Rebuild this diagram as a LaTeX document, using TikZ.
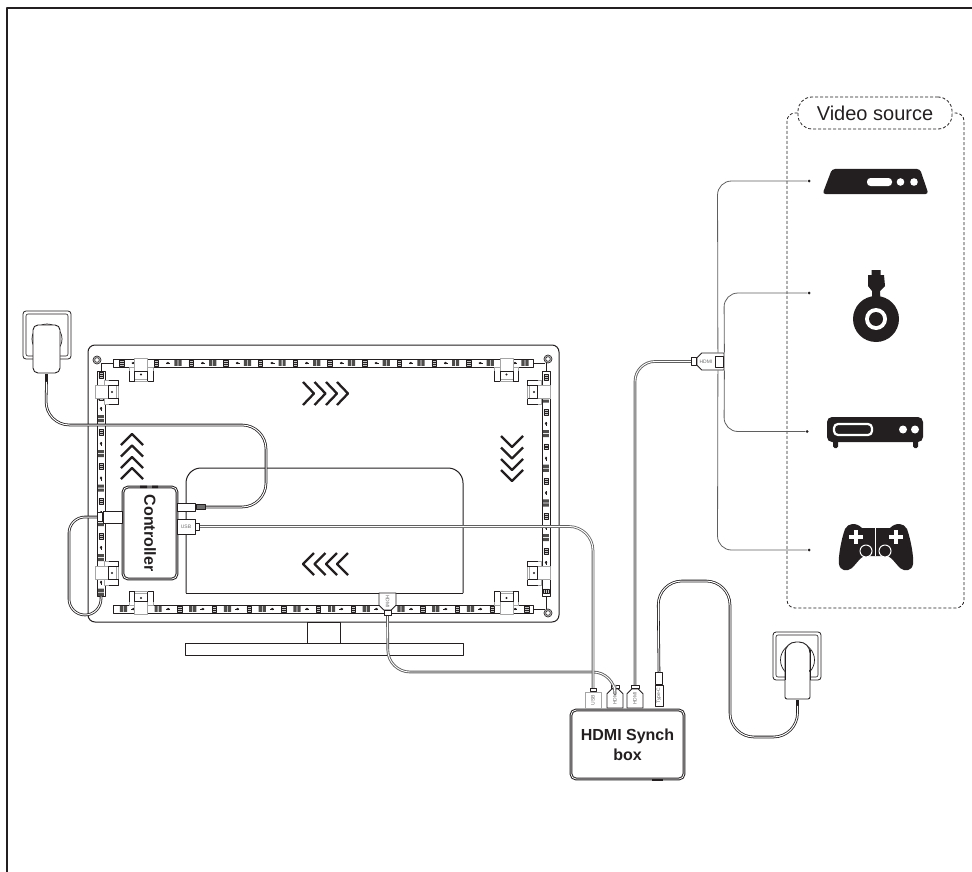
\documentclass[tikz,border=0pt]{standalone}
\usepackage{fontspec}
\setmainfont{Liberation Sans}
\usetikzlibrary{positioning,shapes.misc}
\definecolor{Ink}{RGB}{35,31,32}
\definecolor{CableGray}{RGB}{95,95,95}
\definecolor{ClipGray}{RGB}{165,165,165}
\definecolor{TagGray}{RGB}{110,110,110}
\begin{document}
\begin{tikzpicture}[x=1pt,y=-1pt,line join=round,
  outline/.style={draw=Ink,line width=1},
  cable/.style={draw=Ink,line width=.8,double=white,double distance=1,rounded corners=24},
  graycable/.style={draw=CableGray,line width=.9,double=white,double distance=.9,rounded corners=22},
  tree/.style={draw=CableGray,line width=.8,rounded corners=14},
  plugbox/.style={draw=Ink,line width=.8,fill=white,inner sep=0,font=\fontsize{5}{5}\selectfont,text=TagGray},
  hdmiplug/.style={plugbox,chamfered rectangle,chamfered rectangle xsep=3,chamfered rectangle ysep=3},
  stripbox/.style={draw=Ink,line width=.8,fill=white,inner sep=0},
  hubbox/.style={draw=Ink,line width=1,double=white,double distance=.8,fill=white,inner sep=0,rounded corners=5,align=center,font=\fontsize{16}{20}\selectfont\bfseries,text=Ink},
  srcdot/.style={circle,fill=Ink,inner sep=0,minimum size=3},
  chevron/.style={draw=Ink,line width=2.3,miter limit=10},
  ledhatch/.pic={
    \draw[line width=.6,draw=Ink,fill=Ink!25] (-2.2,-2.8) rectangle (2.2,2.8) (-2.2,-.9) -- (2.2,-.9) (-2.2,.9) -- (2.2,.9);
  },
  ledcell/.pic={
    \pic {ledhatch};
    \draw[line width=.7,draw=Ink] (10,0) -- (14,0);
    \fill[Ink] (11.5,0) ellipse (1.6 and 1.2);
    \fill[Ink!80] (18,-2.8) rectangle (21.2,2.8) (22,-2.8) rectangle (25.2,2.8);
  },
  clip/.pic={
    \draw[ClipGray,line width=.8,fill=white] (-12,0) rectangle (12,14);
    \draw[Ink,line width=.6] (-12,4) -- (-12,14) -- (-6.5,14) (12,4) -- (12,14) -- (6.5,14);
    \draw[ClipGray,line width=.8,fill=white] (-6.5,-9) rectangle (6.5,12);
    \draw[Ink,line width=.6] (-6.5,4) -- (-6.5,14) (-6.5,4) -- (6.5,4) -- (6.5,14);
    \fill[Ink] (0,7.5) circle (1.2);
  }]
  \useasboundingbox (0,0) rectangle (972,872);
  \draw[Ink,line width=1.2] (7,872) -- (7,8) -- (972,8);

  \draw[outline,rounded corners=7] (88,345) rectangle (559,622);
  \draw[outline] (307,622) rectangle (340,643);
  \draw[outline] (185,643) rectangle (463,655);
  \draw[outline,rounded corners=15] (186,593) -- (186,468) -- (463,468) -- (463,593);
  \draw[outline] (186,593) -- (463,593);

  \foreach \cx/\cy in {97/360,548/359,548/613} \draw[Ink,line width=.7] (\cx,\cy) circle (4) circle (2.4);
  \draw[Ink,line width=.7] (101,363) -- (113,363) (101,364) -- (101,371);
  \draw[Ink,line width=.7] (533,363) -- (545,363) (546,363) -- (546,371);
  \draw[Ink,line width=.7] (533,609) -- (545,609) (546,596) -- (546,609);

  \node[stripbox,minimum width=420,minimum height=8] (stripT) at (323,363) {};
  \node[stripbox,minimum width=420,minimum height=8] (stripB) at (323,609) {};
  \node[stripbox,minimum width=8,minimum height=225] (stripL) at (101,483.5) {};
  \node[stripbox,minimum width=8,minimum height=225] (stripR) at (546,483.5) {};
  \foreach \i in {0,...,11} {
    \pic at ({121.7+34.7*\i},363) {ledcell};
    \pic[rotate=180] at ({145+34.7*\i},609) {ledcell};
  }
  \foreach \cy in {375,397,432,466.5,501,536,570.7} \pic[rotate=-90] at (101,\cy) {ledcell};
  \foreach \cy in {377.5,412,446.7,481.4,516,551} \pic[rotate=-90] at (546,\cy) {ledcell};
  \pic[rotate=-90] at (546,591) {ledhatch};

  \pic at (141,367) {clip};
  \pic at (506.5,367) {clip};
  \pic[rotate=180] at (141,605.5) {clip};
  \pic[rotate=180] at (506.5,605.5) {clip};
  \pic[rotate=90] at (104.5,392) {clip};
  \pic[rotate=90] at (104.5,573) {clip};
  \pic[rotate=-90] at (541.5,392) {clip};
  \pic[rotate=-90] at (541.5,573) {clip};

  \foreach \tipx in {314,325.5,337,348} \draw[chevron] (\tipx-11,382) -- (\tipx,393.5) -- (\tipx-11,405);
  \foreach \tipx in {303,314.5,326,337} \draw[chevron] (\tipx+11,553) -- (\tipx,564) -- (\tipx+11,575);
  \foreach \tipy in {434,445.5,457,468} \draw[chevron] (121,\tipy+11) -- (132,\tipy) -- (143,\tipy+11);
  \foreach \tipy in {447,458.5,470,481} \draw[chevron] (501,\tipy-11) -- (512,\tipy) -- (523,\tipy-11);

  \node[hubbox,rotate=-90,minimum width=92,minimum height=54] (ctrl) at (150,533) {Controller};
  \fill[Ink] (140,485.5) rectangle (147,488) (152,485.5) rectangle (158,488);
  \node[plugbox,minimum width=19,minimum height=12] (ctrlplug) at (112.5,517) {};
  \node[plugbox,minimum width=5,minimum height=9,left=0pt of ctrlplug] (ctrltip) {};
  \node[plugbox,minimum width=18,minimum height=8] (jackbody) at (186,507) {};
  \node[plugbox,fill=TagGray,minimum width=9,minimum height=5,right=1pt of jackbody] (jackthread) {};
  \node[plugbox,minimum width=18,minimum height=15] (usbctrl) at (186,526.5) {USB};
  \node[plugbox,minimum width=4,minimum height=7,right=0pt of usbctrl] (usbtip) {};

  \node[hubbox,minimum width=113,minimum height=69] (sync) at (627.5,744.5) {HDMI Synch\\box};
  \fill[Ink] (652,779) rectangle (663,781);
  \node[plugbox,draw=ClipGray,rotate=90,minimum width=16,minimum height=16] (usbsync) at (593,700) {USB};
  \node[plugbox,minimum width=6,minimum height=3,above=0pt of usbsync.east] (usbneck) {};
  \node[hdmiplug,rotate=90,chamfered rectangle corners={north east,south east},minimum width=19,minimum height=16] (hdmiA) at (615,698.5) {HDMI};
  \node[plugbox,minimum width=8,minimum height=3,above=0pt of hdmiA.east] (hdmiAneck) {};
  \node[hdmiplug,rotate=90,chamfered rectangle corners={north east,south east},minimum width=19,minimum height=16] (hdmiB) at (635,698.5) {HDMI};
  \node[plugbox,minimum width=8,minimum height=3,above=0pt of hdmiB.east] (hdmiBneck) {};
  \node[plugbox,rotate=90,minimum width=21,minimum height=8] (typec) at (659,695.5) {Type-C};
  \node[plugbox,minimum width=7,minimum height=12,above=0pt of typec.east] (typecsleeve) {};
  \node[hdmiplug,rotate=-90,chamfered rectangle corners={north east,south east},minimum width=17,minimum height=17] (hdmiTV) at (387.5,601.5) {HDMI};
  \node[plugbox,minimum width=7,minimum height=5,below=0pt of hdmiTV.east] (hdmiTVneck) {};
  \node[hdmiplug,chamfered rectangle corners={north west,south west},minimum width=27,minimum height=17,align=left] (hdmiR) at (710.5,361.5) {HDMI\hspace{9pt}};
  \node[plugbox,minimum width=5,minimum height=8,left=0pt of hdmiR] (hdmiRneck) {};
  \draw[Ink,line width=.8,fill=white] (715,356) rectangle (723,367);

  \draw[Ink,line width=.8,fill=white,rounded corners=3] (23,311) rectangle (71,359);
  \draw[Ink,line width=.6,rounded corners=2] (26,314) rectangle (68,356);
  \draw[Ink,line width=.7] (47,339) circle (15);
  \node[draw=Ink,line width=.9,fill=white,rounded corners=5,inner sep=0,minimum width=27,minimum height=48] (adapterL) at (46.5,349) {};
  \node[fill=Ink,inner sep=0,minimum width=3,minimum height=8,below=0pt of adapterL] (adapterLtail) {};

  \draw[Ink,line width=.8,fill=white,rounded corners=3] (773,632) rectangle (821,680);
  \draw[Ink,line width=.6,rounded corners=2] (776,635) rectangle (818,677);
  \draw[Ink,line width=.7] (797.5,660) circle (17);
  \draw[Ink,line width=.9,fill=white,rounded corners=11] (785,670) -- (785,642) -- (810,642) -- (810,670);
  \node[draw=Ink,line width=.9,fill=white,rounded corners=2,inner sep=0,minimum width=25,minimum height=29] (adapterR) at (797.5,684.5) {};
  \fill[white] (785.6,660) rectangle (809.4,672);
  \draw[Ink,line width=.9] (785,650) -- (785,680) (810,650) -- (810,680);
  \node[fill=Ink,inner sep=0,minimum width=3,minimum height=6,below=0pt of adapterR] (adapterRtail) {};

  \draw[cable] (jackthread.east) -- (266,507) -- (266,425) -- (45.5,425) -- (adapterLtail.south);
  \draw[cable,rounded corners=16] (ctrltip.west) -- (69,517) -- (69,615) -- (stripL.south |- 0,615) -- (stripL.south);
  \draw[graycable] (hdmiTVneck.south) -- (388,672) -- (615,672) [rounded corners=12] -- (hdmiAneck.north);
  \draw[cable,draw=CableGray] (usbtip.east) -- (593,526.5) -- (usbneck.north);
  \draw[graycable,rounded corners=20] (hdmiRneck.west) -- (635,361.5) -- (hdmiBneck.north);
  \draw[cable] (typecsleeve.north) -- (658,581) -- (730,581) -- (730,737) -- (797.5,737) -- (adapterRtail.south);

  \node[draw=Ink,densely dashed,line width=.8,rounded corners=14,inner sep=0,minimum width=154,minimum height=32,font=\fontsize{20}{20}\selectfont,text=Ink] (vidlabel) at (875,113) {Video source};
  \draw[Ink,densely dashed,line width=.8,rounded corners=8] (vidlabel.west) -- (787,113) -- (787,608) -- (964,608) -- (964,113) -- (vidlabel.east);

  \node[srcdot] (srcA) at (809,181) {};
  \node[srcdot] (srcB) at (809,293) {};
  \node[srcdot] (srcC) at (807,431.5) {};
  \node[srcdot] (srcD) at (809,550) {};
  \draw[tree] ([xshift=-6.5]hdmiR.north east) -- (717.5,181) -- (srcA);
  \draw[tree] (hdmiR.north east) -- (724,293) -- (srcB);
  \draw[tree] (hdmiR.south east) -- (724,431.5) -- (srcC);
  \draw[tree] ([xshift=-6.5]hdmiR.south east) -- (717.5,550) -- (srcD);

  \fill[Ink,rounded corners=3] (832,169) -- (920,169) -- (928.5,194) -- (822.5,194) -- cycle;
  \fill[white,rounded corners=3.5] (867,178) rectangle (892,186);
  \fill[white] (900.5,182) circle (3.8) (914,182) circle (3.8);

  \fill[Ink] (876,319) circle (23);
  \fill[white] (876,319) circle (11);
  \fill[Ink] (876,319) circle (7);
  \fill[Ink] (871.5,270) rectangle (880.5,276) (872,295) rectangle (880,300);
  \fill[Ink] (868,275) -- (884,275) -- (885,286) -- (880,291) -- (880,296) -- (872,296) -- (872,291) -- (868,286) -- cycle;

  \fill[Ink,rounded corners=5] (827,417) rectangle (923,442);
  \fill[Ink,rounded corners=1.5] (833,440) rectangle (838,448) (913,440) rectangle (918,448);
  \draw[white,line width=2.2,rounded corners=4] (834,424) rectangle (872,435);
  \fill[white] (903,429.5) circle (4) (915,429.5) circle (4);

  \fill[Ink] (876,528) -- (862,528) .. controls (856,522) and (848,523) .. (845,529) .. controls (841,540) and (838,558) .. (839,564) .. controls (840,571) and (847,572) .. (852,568) .. controls (856,564) and (860,558) .. (864,556) -- (888,556) .. controls (892,558) and (896,564) .. (900,568) .. controls (905,572) and (912,571) .. (913,564) .. controls (914,558) and (911,540) .. (907,529) .. controls (904,523) and (896,522) .. (890,528) -- cycle;
  \draw[white,line width=.5] (875.5,528) -- (875.5,556);
  \draw[white,line width=1,fill=Ink] (866,551) circle (6) (885,551) circle (6);
  \draw[white,line width=3.6] (849,537) -- (863,537) (856,530) -- (856,544) (889,537) -- (903,537) (896,530) -- (896,544);
\end{tikzpicture}
\end{document}
